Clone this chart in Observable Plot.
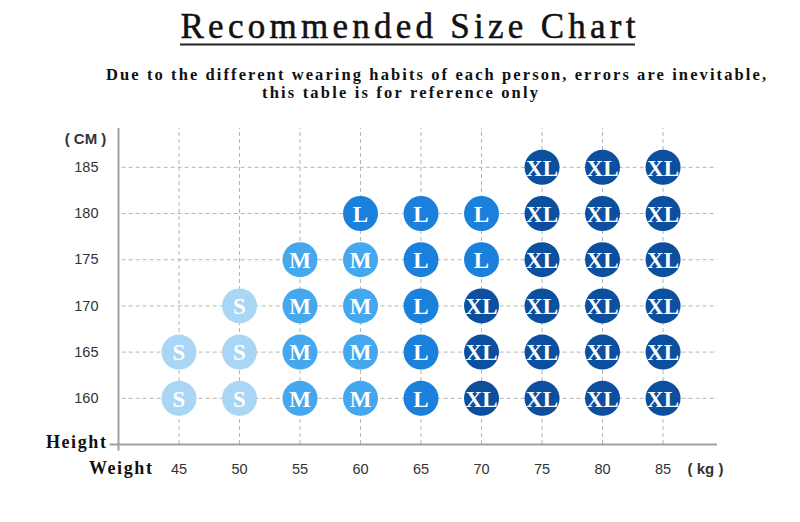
<!DOCTYPE html>
<html>
<head>
<meta charset="utf-8">
<script src="https://cdn.jsdelivr.net/npm/d3@7"></script>
<script src="https://cdn.jsdelivr.net/npm/@observablehq/plot@0.6"></script>
<style>
  html, body { margin: 0; padding: 0; background: #fff; }
  #wrap { position: relative; width: 800px; height: 522px; overflow: hidden; }
  #head { position: absolute; left: 0; top: 0; }
  #chart { position: absolute; left: 0; top: 0; }
</style>
</head>
<body>
<div id="wrap">
  <div id="chart"></div>
  <svg id="head" width="800" height="110" xmlns="http://www.w3.org/2000/svg">
    <text x="408" y="38" text-anchor="middle" font-family="Liberation Serif" font-size="35" fill="#111" stroke="#111" stroke-width="0.5" textLength="455" lengthAdjust="spacing">Recommended Size Chart</text>
    <line x1="180" x2="635" y1="44.5" y2="44.5" stroke="#222" stroke-width="2"></line>
    <text x="436" y="80" text-anchor="middle" font-family="Liberation Serif" font-weight="bold" font-size="16.5" fill="#111" textLength="660" lengthAdjust="spacing">Due to the different wearing habits of each person, errors are inevitable,</text>
    <text x="400" y="98" text-anchor="middle" font-family="Liberation Serif" font-weight="bold" font-size="16.5" fill="#111" textLength="276" lengthAdjust="spacing">this table is for reference only</text>
  </svg>
</div>
<script>
// Weight (kg) categories along x, height (cm) rows along y
const weights = [45, 50, 55, 60, 65, 70, 75, 80, 85];
const heights = [185, 180, 175, 170, 165, 160];
// Recommended size per height row, one entry per weight (null = no size)
const row185 = [null, null, null, null, null, null, "XL", "XL", "XL"];
const row180 = [null, null, null, "L", "L", "L", "XL", "XL", "XL"];
const row175 = [null, null, "M", "M", "L", "L", "XL", "XL", "XL"];
const row170 = [null, "S", "M", "M", "L", "XL", "XL", "XL", "XL"];
const row165 = ["S", "S", "M", "M", "L", "XL", "XL", "XL", "XL"];
const row160 = ["S", "S", "M", "M", "L", "XL", "XL", "XL", "XL"];
const sizeNames = ["S", "M", "L", "XL"];
const sizeColors = ["#a9d6f5", "#45a8ee", "#1a80db", "#0b4f9e"];

const rows = [row185, row180, row175, row170, row165, row160];
const cells = [];
rows.forEach((row, i) => row.forEach((s, j) => {
  if (s) cells.push({weight: weights[j], height: heights[i], size: s});
}));

const gridStyle = {stroke: "#b5b5b5", strokeDasharray: "4,3", strokeWidth: 1};

const chart = Plot.plot({
  width: 800,
  height: 522,
  marginLeft: 118,
  marginRight: 83,
  marginTop: 128,
  marginBottom: 78,
  style: {background: "transparent", overflow: "visible"},
  x: {domain: [40, 89.5], axis: null},
  y: {domain: [155, 189.2], axis: null},
  color: {domain: sizeNames, range: sizeColors},
  marks: [
    Plot.ruleY(heights, {x1: 40.3, x2: 89.5, ...gridStyle}),
    Plot.ruleX(weights, {y1: 155, y2: 189.2, ...gridStyle}),
    Plot.ruleY([155], {x1: 39.3, x2: 89.5, stroke: "#a0a0a0", strokeWidth: 2}),
    Plot.ruleX([40], {y1: 154.3, y2: 189.2, stroke: "#a0a0a0", strokeWidth: 2}),
    Plot.axisY(heights, {tickSize: 0, tickPadding: 20, fontSize: 14.5, fontFamily: "Liberation Sans", fill: "#333", label: null}),
    Plot.axisX(weights, {tickSize: 0, tickPadding: 19, fontSize: 14.5, fontFamily: "Liberation Sans", fill: "#333", label: null}),
    Plot.dot(cells, {x: "weight", y: "height", r: 17.5, fill: "size"}),
    Plot.text(cells, {x: "weight", y: "height", text: "size", fill: "white", fontFamily: "Liberation Serif", fontWeight: "bold", fontSize: 23, dy: 1}),
    Plot.text(["( CM )"], {frameAnchor: "top-left", dx: -33, dy: 5, textAnchor: "middle", fontFamily: "Liberation Sans", fontWeight: "bold", fontSize: 15, fill: "#333"}),
    Plot.text(["( kg )"], {frameAnchor: "bottom-right", dx: -12, dy: 29, textAnchor: "middle", fontFamily: "Liberation Sans", fontWeight: "bold", fontSize: 15, fill: "#333"}),
    Plot.text(["Height"], {frameAnchor: "bottom-left", dx: -11, dy: 3, textAnchor: "end", fontFamily: "Liberation Serif", fontWeight: "bold", fontSize: 18, fill: "#111"}),
    Plot.text(["Weight"], {frameAnchor: "bottom-left", dx: 35, dy: 29, textAnchor: "end", fontFamily: "Liberation Serif", fontWeight: "bold", fontSize: 18, fill: "#111"})
  ]
});
d3.select(chart).selectAll("text")
  .filter(function() { return this.textContent === "Height" || this.textContent === "Weight"; })
  .attr("letter-spacing", 1.6);
document.getElementById("chart").appendChild(chart);
</script>
</body>
</html>
